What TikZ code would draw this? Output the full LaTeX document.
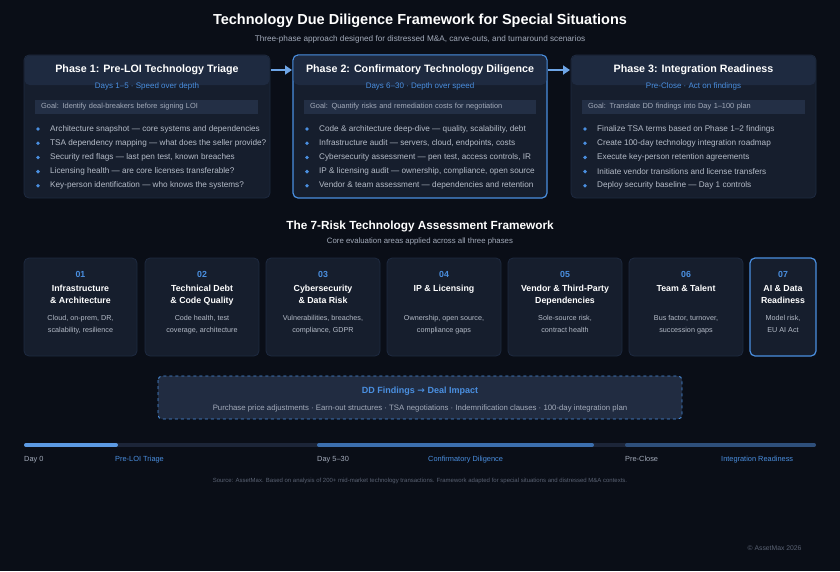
\documentclass[tikz,border=0pt]{standalone}
\usepackage{fontspec}
\setmainfont{Liberation Sans}
\newfontfamily\symfont{DejaVu Sans}
\usetikzlibrary{arrows.meta}
\definecolor{bg}{HTML}{0A0E17}
\definecolor{card}{HTML}{161E2D}
\definecolor{cardhead}{HTML}{1E2A40}
\definecolor{goalbg}{HTML}{232F45}
\definecolor{accent}{HTML}{4A8FE0}
\definecolor{soft}{HTML}{A3ABBA}
\definecolor{dim}{HTML}{5A6273}
\definecolor{track}{HTML}{1C2538}
\tikzset{
  x=1pt, y=-1pt,
  box/.style={draw=cardhead, line width=0.8pt, fill=card, rounded corners=5pt},
  hot/.style={draw=accent, line width=1.2pt, fill=card, rounded corners=5pt},
  phasetitle/.style={text=white, font=\fontsize{10.7}{12}\selectfont\bfseries},
  phasesub/.style={text=accent, font=\fontsize{8}{9}\selectfont},
  goal/.style={fill=goalbg, minimum height=14pt, text=soft, font=\fontsize{7.4}{9}\selectfont, inner xsep=6pt, anchor=west, align=left},
  item/.style={text=soft!80!white, font=\fontsize{8.2}{9}\selectfont, anchor=west, inner sep=0pt},
  dot/.style={circle, fill=accent, inner sep=0pt, minimum size=3.8pt},
  num/.style={text=accent, font=\fontsize{8.8}{10}\selectfont\bfseries},
  risk/.style={text=white, font=\fontsize{8.8}{12}\selectfont\bfseries, align=center, anchor=north},
  riskdesc/.style={text=soft!80, font=\fontsize{7.2}{12}\selectfont, align=center, anchor=north},
  tl/.style={font=\fontsize{7.4}{8}\selectfont, anchor=base west, inner sep=0pt},
  flow/.style={-{Triangle[length=7pt,width=9pt]}, draw=accent!80!white, line width=2pt}
}
\begin{document}
\begin{tikzpicture}
\fill[bg] (0,0) rectangle (840,571);
\useasboundingbox (0,0) rectangle (840,571);

% header
\node[text=white, font=\fontsize{14.5}{16}\selectfont\bfseries] (title) at (420,21) {Technology Due Diligence Framework for Special Situations};
\node[text=soft, font=\fontsize{8.2}{10}\selectfont] (subtitle) at (420,39) {Three-phase approach designed for distressed M\&A, carve-outs, and turnaround scenarios};

% phase cards
\draw[box] (24,55) rectangle (270,198);
\fill[cardhead, rounded corners=5pt] (24.5,55.5) rectangle (269.5,85);
\draw[hot] (293,55) rectangle (547,198);
\fill[cardhead, rounded corners=5pt] (293.6,55.6) rectangle (546.4,85);
\draw[box] (571,55) rectangle (816,198);
\fill[cardhead, rounded corners=5pt] (571.5,55.5) rectangle (815.5,85);

\node[phasetitle] (p1) at (147,70) {Phase 1: Pre-LOI Technology Triage};
\node[phasetitle] (p2) at (420,70) {Phase 2: Confirmatory Technology Diligence};
\node[phasetitle] (p3) at (693.5,70) {Phase 3: Integration Readiness};
\node[phasesub] (p1sub) at (147,86) {Days 1--5 · Speed over depth};
\node[phasesub] (p2sub) at (420,86) {Days 6--30 · Depth over speed};
\node[phasesub] (p3sub) at (693.5,86) {Pre-Close · Act on findings};

\node[goal, text width=211pt] (g1) at (35,107) {Goal: Identify deal-breakers before signing LOI};
\node[goal, text width=220pt] (g2) at (304,107) {Goal: Quantify risks and remediation costs for negotiation};
\node[goal, text width=211pt] (g3) at (582,107) {Goal: Translate DD findings into Day 1--100 plan};

\foreach \t [count=\i] in {{Architecture snapshot --- core systems and dependencies},
  {TSA dependency mapping --- what does the seller provide?},
  {Security red flags --- last pen test, known breaches},
  {Licensing health --- are core licenses transferable?},
  {Key-person identification --- who knows the systems?}}
  \node[dot] (a\i) at (38,{129+14.2*(\i-1)}) {} node[item] at (50,{129+14.2*(\i-1)}) {\t};
\foreach \t [count=\i] in {{Code \& architecture deep-dive --- quality, scalability, debt},
  {Infrastructure audit --- servers, cloud, endpoints, costs},
  {Cybersecurity assessment --- pen test, access controls, IR},
  {IP \& licensing audit --- ownership, compliance, open source},
  {Vendor \& team assessment --- dependencies and retention}}
  \node[dot] (b\i) at (307,{129+14.2*(\i-1)}) {} node[item] at (319,{129+14.2*(\i-1)}) {\t};
\foreach \t [count=\i] in {{Finalize TSA terms based on Phase 1--2 findings},
  {Create 100-day technology integration roadmap},
  {Execute key-person retention agreements},
  {Initiate vendor transitions and license transfers},
  {Deploy security baseline --- Day 1 controls}}
  \node[dot] (c\i) at (585,{129+14.2*(\i-1)}) {} node[item] at (597,{129+14.2*(\i-1)}) {\t};

\coordinate (p1e) at (271,70);
\coordinate (p2w) at (292,70);
\coordinate (p2e) at (548,70);
\coordinate (p3w) at (570,70);
\draw[flow] (p1e) -- (p2w);
\draw[flow] (p2e) -- (p3w);

% risk framework
\node[text=white, font=\fontsize{11.8}{13}\selectfont\bfseries] (rtitle) at (420,226) {The 7-Risk Technology Assessment Framework};
\node[text=soft, font=\fontsize{7.8}{9}\selectfont] (rsub) at (420,241) {Core evaluation areas applied across all three phases};

\foreach \xa/\xb/\n/\h/\d [count=\i] in {
  24/137/01/Infrastructure\\\& Architecture/{Cloud, on-prem, DR,\\scalability, resilience},
  145/259/02/Technical Debt\\\& Code Quality/{Code health, test\\coverage, architecture},
  266/380/03/Cybersecurity\\\& Data Risk/{Vulnerabilities, breaches,\\compliance, GDPR},
  387/501/04/IP \& Licensing/{Ownership, open source,\\compliance gaps},
  508/622/05/Vendor \& Third-Party\\Dependencies/{Sole-source risk,\\contract health},
  629/743/06/Team \& Talent/{Bus factor, turnover,\\succession gaps}}{
  \draw[box] (\xa,258) rectangle (\xb,356);
  \node[num] (n\i) at ({(\xa+\xb)/2},274) {\n};
  \node[risk] (r\i) at ({(\xa+\xb)/2},282) {\h};
  \node[riskdesc] (d\i) at ({(\xa+\xb)/2},312) {\d};
}
\draw[hot] (750,258) rectangle (816,356);
\node[num] (n7) at (783,274) {07};
\node[risk] (r7) at (783,282) {AI \& Data\\Readiness};
\node[riskdesc] (d7) at (783,312) {Model risk,\\EU AI Act};

% deal impact
\draw[draw=accent, dashed, line width=0.9pt, fill=goalbg!85!card, rounded corners=4pt] (158,376) rectangle (682,419);
\node[text=accent, font=\fontsize{9}{10}\selectfont\bfseries] (dd) at (420,391) {DD Findings {\symfont→} Deal Impact};
\node[text=soft, font=\fontsize{7.8}{9}\selectfont] (ddsub) at (420,408) {Purchase price adjustments · Earn-out structures · TSA negotiations · Indemnification clauses · 100-day integration plan};

% timeline
\draw[track, line width=4pt, line cap=round] (26,445) -- (814,445);
\draw[accent!90!white, line width=4pt, line cap=round] (26,445) -- (116,445);
\draw[accent!70!track, line width=4pt, line cap=round] (319,445) -- (592,445);
\draw[accent!40!track, line width=4pt, line cap=round] (627,445) -- (814,445);
\node[tl, text=soft] (t0) at (24,461) {Day 0};
\node[tl, text=accent] (t1) at (115,461) {Pre-LOI Triage};
\node[tl, text=soft] (t2) at (317,461) {Day 5--30};
\node[tl, text=accent] (t3) at (428,461) {Confirmatory Diligence};
\node[tl, text=soft] (t4) at (625,461) {Pre-Close};
\node[tl, text=accent] (t5) at (721,461) {Integration Readiness};

% footer
\node[text=dim, font=\fontsize{6}{7}\selectfont] (src) at (420,481) {Source: AssetMax. Based on analysis of 200+ mid-market technology transactions. Framework adapted for special situations and distressed M\&A contexts.};
\node[text=dim, font=\fontsize{6.8}{8}\selectfont, anchor=east] (copy) at (805,548) {© AssetMax 2026};
\end{tikzpicture}
\end{document}
